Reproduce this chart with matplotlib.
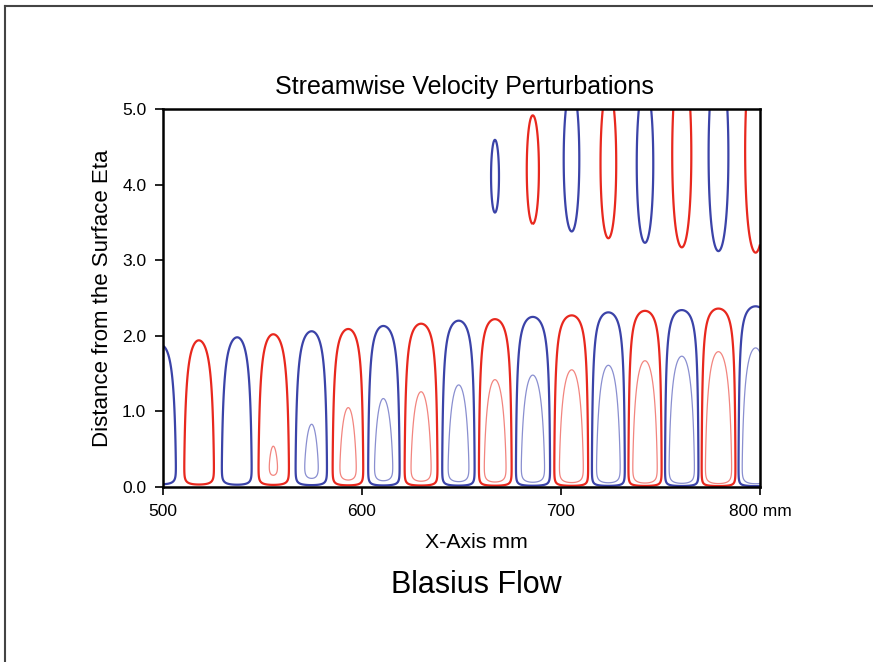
import numpy as np
import matplotlib
matplotlib.use("Agg")
import matplotlib.pyplot as plt
from matplotlib.lines import Line2D

plt.rcParams["font.family"] = ["Liberation Sans", "DejaVu Sans"]

# crest positions of the near-wall lobes (mm), blue / red alternating, blue first
lobe_x = np.array([499.4, 518.0, 537.3, 555.4, 574.7, 593.1, 610.7, 629.7, 648.6,
                   666.8, 685.8, 705.4, 723.8, 742.2, 760.7, 779.1, 797.8])
# top of the outer (thick) contour of each lobe, eta
outer_top = np.array([1.87, 1.94, 1.98, 2.02, 2.06, 2.09, 2.13, 2.16, 2.20,
                      2.22, 2.25, 2.27, 2.31, 2.33, 2.34, 2.36, 2.39])
# top of the inner (thin) contour, nan where there is none
inner_top = np.array([np.nan, np.nan, np.nan, 0.54, 0.83, 1.05, 1.17, 1.26, 1.35,
                      1.42, 1.48, 1.55, 1.61, 1.67, 1.73, 1.79, 1.84])
# lobes of opposite sign higher up: lowest point (eta) and width (mm)
upper_bottom = np.array([np.nan] * 9 + [3.63, 3.48, 3.38, 3.29, 3.23, 3.17, 3.12, 3.10])
upper_width = np.array([np.nan] * 9 + [4.0, 5.9, 7.7, 8.0, 8.4, 9.7, 10.0, 10.5])

x_ticks = [500, 600, 700, 800]
x_ticklabels = ["500", "600", "700", "800 mm"]
y_ticks = [0, 1, 2, 3, 4, 5]

BLUE, LBLUE = "#3b43a8", "#8a8fd0"
RED, LRED = "#e8281e", "#f2857f"

# ---- perturbation field built from the lobe table ----
x = np.linspace(500, 800, 1201)
eta = np.linspace(0, 5, 801)
E = eta[:, None]

spacing = np.diff(lobe_x).mean()
cx = np.r_[lobe_x[0] - spacing, lobe_x, lobe_x[-1] + spacing]
k = np.interp(x, cx, np.arange(-1, len(lobe_x) + 1))
wave = np.cos(np.pi * k)
near = np.clip(np.rint(k), 0, len(lobe_x) - 1).astype(int)

# near-wall profile A * (eta0^q - eta^q); contour levels 1 (outer) and L (inner)
L, q = 3.3, 1.5
e0q = np.where(np.isnan(inner_top), 2.5 ** q,
               (L * outer_top ** q - inner_top ** q) / (L - 1))
amp = 1.0 / (e0q - outer_top ** q)
low = wave * amp[near] * np.tanh(E / 0.1) * np.clip(e0q[near] - E ** q, 0, None)

# outer lobes of opposite sign
s = 2.0
b = 1.0 / np.cos(np.pi / 2 * upper_width / spacing)
m = upper_bottom + s * np.sqrt(np.log(b))
b, m = np.nan_to_num(b), np.nan_to_num(m)
up = -wave * b[near] * np.exp(-((E - m[near]) / s) ** 2)

# ---- figure ----
fig = plt.figure(figsize=(8.73, 6.62), dpi=100)
ax = fig.add_axes([163 / 873, 1 - 487 / 662, 597 / 873, 378 / 662])

ax.contour(x, eta, low, levels=[-L, -1, 1, L],
           colors=[LRED, RED, BLUE, LBLUE], linewidths=[0.9, 1.6, 1.6, 0.9])
ax.contour(x, eta, up, levels=[-1, 1], colors=[RED, BLUE], linewidths=1.6)

ax.set_xlim(500, 800)
ax.set_ylim(0, 5)
ax.set_xticks(x_ticks)
ax.set_xticklabels(x_ticklabels)
ax.set_yticks(y_ticks)
ax.set_yticklabels([f"{v:.1f}" for v in y_ticks])
ax.tick_params(direction="out", length=6, width=1.2, labelsize=12.5, pad=6)
for sp in ax.spines.values():
    sp.set_linewidth(1.8)

fig.text(464 / 873, 1 - 87 / 662, "Streamwise Velocity Perturbations",
         fontsize=18, ha="center", va="center")
fig.text(103 / 873, 1 - 298 / 662, "Distance from the Surface Eta",
         fontsize=16, rotation=90, ha="center", va="center")
fig.text(476 / 873, 1 - 543 / 662, "X-Axis mm", fontsize=15.3, ha="center", va="center")
fig.text(476 / 873, 1 - 585 / 662, "Blasius Flow", fontsize=22, ha="center", va="center")

# page frame, cut off at right and bottom
fig.add_artist(Line2D([5 / 873, 5 / 873], [0, 1 - 5.5 / 662], color="#444444", lw=1.5))
fig.add_artist(Line2D([5 / 873, 1], [1 - 5.5 / 662, 1 - 5.5 / 662], color="#444444", lw=1.5))

fig.savefig("out.png", dpi=100)
